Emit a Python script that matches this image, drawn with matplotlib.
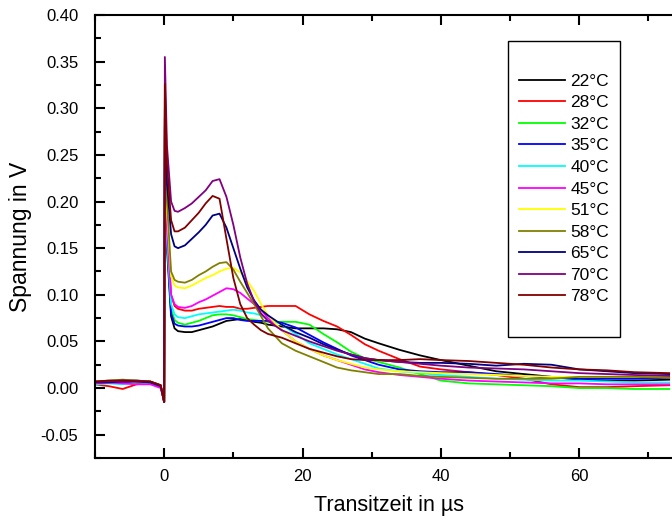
import matplotlib
matplotlib.use("Agg")
import matplotlib.pyplot as plt
from matplotlib.patches import Rectangle
from matplotlib.ticker import MultipleLocator

plt.rcParams["font.family"] = ["Liberation Sans", "DejaVu Sans"]

# ── Daten ────────────────────────────────────────────────────────────────────
t_us = [-10, -8, -6, -4, -2, -0.5, 0, 0.1, 0.4, 1, 1.5, 2, 3, 4, 5, 6, 7, 8, 9, 10,
        11, 12, 13, 14, 15, 17, 19, 21, 23, 25, 27, 29, 31, 34, 37, 40, 44, 48,
        52, 56, 60, 64, 68, 73]

labels = ["22°C", "28°C", "32°C", "35°C", "40°C", "45°C", "51°C", "58°C", "65°C", "70°C", "78°C"]
colors = ["#000000", "#FF0000", "#00FF00", "#0000FF", "#00FFFF", "#FF00FF",
          "#FFFF00", "#808000", "#000080", "#800080", "#800000"]

u_22 = [0.005, 0.006, 0.007, 0.007, 0.006, 0.002, -0.015, 0.28, 0.15, 0.077, 0.064, 0.061,
        0.060, 0.060, 0.062, 0.064, 0.066, 0.069, 0.072, 0.073, 0.074, 0.073, 0.071, 0.070,
        0.068, 0.066, 0.064, 0.064, 0.064, 0.063, 0.060, 0.053, 0.048, 0.041, 0.035, 0.030,
        0.024, 0.018, 0.015, 0.012, 0.009, 0.008, 0.008, 0.009]
u_28 = [0.004, 0.002, -0.001, 0.004, 0.006, 0.002, -0.015, 0.29, 0.17, 0.10, 0.088, 0.085,
        0.083, 0.083, 0.085, 0.086, 0.087, 0.088, 0.087, 0.087, 0.085, 0.085, 0.086, 0.087,
        0.088, 0.088, 0.088, 0.079, 0.072, 0.066, 0.057, 0.047, 0.040, 0.031, 0.023, 0.020,
        0.017, 0.014, 0.010, 0.004, 0.001, 0.001, 0.002, 0.003]
u_32 = [0.006, 0.007, 0.008, 0.008, 0.007, 0.002, -0.015, 0.27, 0.16, 0.085, 0.073, 0.070,
        0.068, 0.070, 0.072, 0.075, 0.078, 0.079, 0.079, 0.078, 0.076, 0.074, 0.073, 0.072,
        0.071, 0.071, 0.071, 0.068, 0.058, 0.049, 0.039, 0.032, 0.028, 0.022, 0.015, 0.008,
        0.005, 0.004, 0.003, 0.002, 0.000, 0.000, -0.001, -0.001]
u_35 = [0.005, 0.006, 0.007, 0.006, 0.006, 0.002, -0.015, 0.29, 0.16, 0.080, 0.069, 0.067,
        0.066, 0.066, 0.067, 0.069, 0.071, 0.073, 0.075, 0.075, 0.073, 0.072, 0.072, 0.072,
        0.072, 0.070, 0.065, 0.057, 0.049, 0.042, 0.035, 0.030, 0.025, 0.020, 0.018, 0.017,
        0.017, 0.015, 0.013, 0.011, 0.010, 0.010, 0.010, 0.011]
u_40 = [0.004, 0.005, 0.004, 0.006, 0.005, 0.002, -0.015, 0.27, 0.16, 0.090, 0.079, 0.076,
        0.075, 0.077, 0.079, 0.080, 0.081, 0.082, 0.083, 0.084, 0.083, 0.081, 0.080, 0.078,
        0.075, 0.068, 0.058, 0.048, 0.042, 0.036, 0.031, 0.026, 0.021, 0.018, 0.016, 0.014,
        0.012, 0.010, 0.009, 0.008, 0.008, 0.007, 0.006, 0.006]
u_45 = [0.005, 0.006, 0.005, 0.004, 0.004, 0.000, -0.015, 0.28, 0.17, 0.100, 0.090, 0.087,
        0.086, 0.088, 0.092, 0.095, 0.099, 0.103, 0.107, 0.106, 0.102, 0.096, 0.090, 0.084,
        0.075, 0.062, 0.050, 0.042, 0.035, 0.030, 0.025, 0.020, 0.017, 0.014, 0.012, 0.010,
        0.008, 0.007, 0.006, 0.005, 0.005, 0.004, 0.004, 0.004]
u_51 = [0.006, 0.007, 0.008, 0.007, 0.007, 0.003, -0.015, 0.30, 0.19, 0.120, 0.110, 0.108,
        0.107, 0.110, 0.114, 0.118, 0.121, 0.125, 0.128, 0.129, 0.124, 0.115, 0.104, 0.090,
        0.078, 0.062, 0.050, 0.042, 0.035, 0.030, 0.026, 0.022, 0.020, 0.018, 0.017, 0.016,
        0.015, 0.014, 0.013, 0.012, 0.012, 0.012, 0.012, 0.012]
u_58 = [0.007, 0.008, 0.009, 0.008, 0.007, 0.003, -0.015, 0.31, 0.20, 0.125, 0.116, 0.114,
        0.113, 0.116, 0.121, 0.125, 0.130, 0.134, 0.135, 0.127, 0.114, 0.102, 0.090, 0.077,
        0.064, 0.048, 0.040, 0.034, 0.028, 0.022, 0.019, 0.017, 0.015, 0.015, 0.013, 0.012,
        0.011, 0.010, 0.010, 0.010, 0.012, 0.012, 0.012, 0.011]
u_65 = [0.006, 0.006, 0.007, 0.007, 0.006, 0.002, -0.015, 0.30, 0.22, 0.165, 0.152, 0.150,
        0.153, 0.160, 0.167, 0.175, 0.185, 0.187, 0.172, 0.150, 0.128, 0.108, 0.094, 0.084,
        0.078, 0.068, 0.060, 0.054, 0.047, 0.041, 0.036, 0.032, 0.030, 0.028, 0.027, 0.027,
        0.026, 0.024, 0.026, 0.025, 0.020, 0.018, 0.016, 0.015]
u_70 = [0.007, 0.007, 0.008, 0.008, 0.007, 0.003, -0.015, 0.355, 0.26, 0.200, 0.190, 0.189,
        0.193, 0.198, 0.205, 0.212, 0.222, 0.224, 0.205, 0.175, 0.140, 0.112, 0.093, 0.080,
        0.072, 0.062, 0.056, 0.050, 0.045, 0.040, 0.036, 0.032, 0.030, 0.028, 0.026, 0.024,
        0.022, 0.021, 0.020, 0.018, 0.016, 0.015, 0.014, 0.013]
u_78 = [0.007, 0.008, 0.008, 0.007, 0.007, 0.003, -0.015, 0.326, 0.24, 0.180, 0.168, 0.168,
        0.172, 0.180, 0.188, 0.198, 0.206, 0.203, 0.160, 0.118, 0.090, 0.075, 0.068, 0.062,
        0.058, 0.054, 0.048, 0.042, 0.038, 0.034, 0.031, 0.030, 0.030, 0.030, 0.031, 0.030,
        0.029, 0.027, 0.025, 0.022, 0.020, 0.019, 0.017, 0.016]

series = [u_22, u_28, u_32, u_35, u_40, u_45, u_51, u_58, u_65, u_70, u_78]

# ── Plot ─────────────────────────────────────────────────────────────────────
W, H = 672, 520
fig = plt.figure(figsize=(W / 100, H / 100), dpi=100)
ax = fig.add_axes([95 / W, (H - 458) / H, (683 - 95) / W, (458 - 15) / H])

lines = []
for u, c, lab in zip(series, colors, labels):
    ln, = ax.plot(t_us, u, color=c, lw=1.3, label=lab)
    lines.append(ln)

ax.set_xlim(-10, 75)
ax.set_ylim(-0.075, 0.40)
ax.xaxis.set_major_locator(MultipleLocator(20))
ax.xaxis.set_minor_locator(MultipleLocator(10))
ax.yaxis.set_major_locator(MultipleLocator(0.05))
ax.yaxis.set_minor_locator(MultipleLocator(0.025))
ax.yaxis.set_major_formatter(matplotlib.ticker.FormatStrFormatter("%.2f"))
ax.tick_params(which="both", direction="in", top=True, right=True, width=1.5, labelsize=12)
ax.tick_params(which="major", length=7)
ax.tick_params(which="minor", length=4)
ax.tick_params(axis="y", which="major", pad=12)
ax.tick_params(axis="x", which="major", pad=8)
for s in ax.spines.values():
    s.set_linewidth(1.5)

ax.set_xlabel("Transitzeit in µs", fontsize=15.5, labelpad=8)
ax.set_ylabel("Spannung in V", fontsize=16.5, labelpad=6)

# Legendenrahmen wie im Original (große Innenränder)
fig.patches.append(Rectangle((508 / W, (H - 337) / H), 112 / W, 296 / H, transform=fig.transFigure,
                             fill=False, edgecolor="black", lw=1.0))
fig.legend(lines, labels, loc="center", bbox_to_anchor=(564 / W, (H - 189) / H), frameon=False,
           fontsize=12.5, handlelength=2.7, handletextpad=0.3, labelspacing=0.37)

fig.savefig("out.png", dpi=100)
